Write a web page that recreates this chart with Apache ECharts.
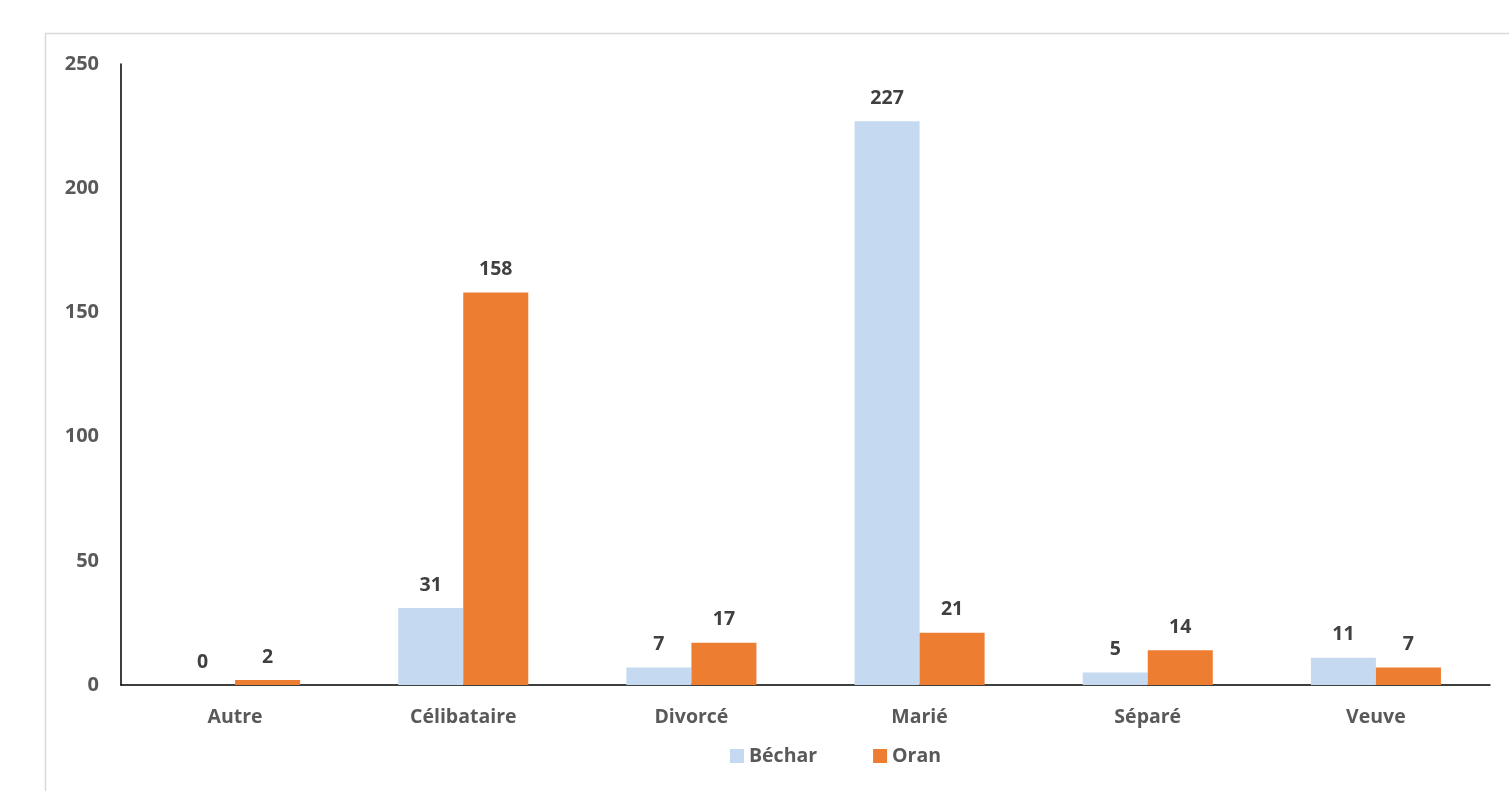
<!DOCTYPE html>
<html><head><meta charset="utf-8">
<script src="https://cdn.jsdelivr.net/npm/echarts@6/dist/echarts.min.js"></script>
<style>html,body{margin:0;padding:0;background:#fff}#c{width:1509px;height:791px}</style>
</head><body><div id="c"></div>
<script>
const categories = ['Autre','Célibataire','Divorcé','Marié','Séparé','Veuve'];
const bechar = [0,31,7,227,5,11];
const oran = [2,158,17,21,14,7];
const yTicks = [0,50,100,150,200,250];
const font = '"Open Sans", sans-serif';
const chart = echarts.init(document.getElementById('c'));
const lbl = {show:true, position:'top', distance:13, color:'#404040', fontWeight:'bold', fontSize:19.5, fontFamily:font};
chart.setOption({
  animation:false,
  graphic:[{type:'rect', shape:{x:45.5,y:33.5,width:1600,height:900}, style:{fill:'none', stroke:'#d9d9d9', lineWidth:1.5}, silent:true, z:-1}],
  grid:{left:121, right:19, top:64, bottom:106},
  legend:{left:725, top:741, itemWidth:14, itemHeight:14, itemGap:56, icon:'rect',
    textStyle:{color:'#595959', fontWeight:'bold', fontSize:19.5, fontFamily:font}},
  xAxis:{type:'category', data:categories, axisTick:{show:false},
    axisLine:{lineStyle:{color:'#000', width:1.5}},
    axisLabel:{color:'#595959', fontWeight:'bold', fontSize:19.5, fontFamily:font, margin:22}},
  yAxis:{type:'value', min:0, max:250, interval:50, splitLine:{show:false},
    axisLine:{show:true, lineStyle:{color:'#000', width:1.5}}, axisTick:{show:false},
    axisLabel:{color:'#595959', fontWeight:'bold', fontSize:20, fontFamily:font, margin:22,
      formatter: v => yTicks.includes(v) ? String(v) : ''}},
  series:[
    {name:'Béchar', type:'bar', data:bechar, barGap:'0%', barCategoryGap:'43%', itemStyle:{color:'#c5daf0'}, label:lbl},
    {name:'Oran', type:'bar', data:oran, itemStyle:{color:'#ed7d31'}, label:lbl}
  ]
});
</script></body></html>
